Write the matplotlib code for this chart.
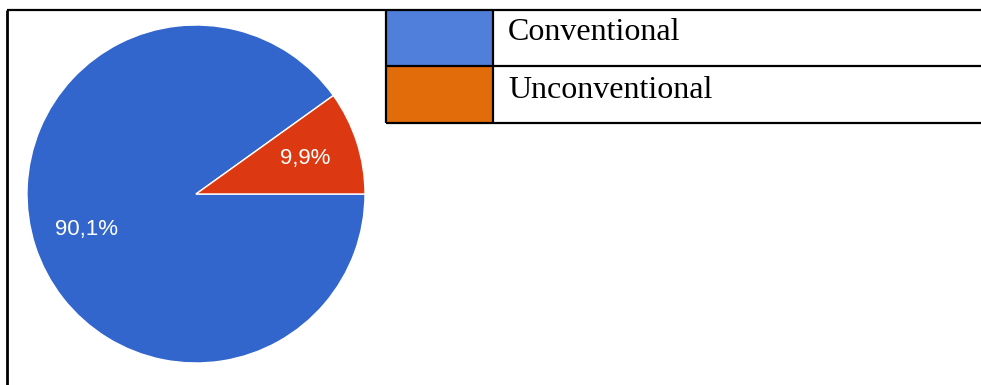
import matplotlib
matplotlib.use('Agg')
import matplotlib.pyplot as plt
from matplotlib.patches import Rectangle

# data
categories = ['Conventional', 'Unconventional']
shares = [90.1, 9.9]
pie_colors = ['#3366cc', '#dc3912']
key_colors = ['#4f7fdb', '#e36c0a']

W, H = 981, 385


def pct_label(p):
    return '{:.1f}%'.format(p).replace('.', ',')


def py(y):
    # image row -> axes y (axes y grows upwards)
    return H - y


fig = plt.figure(figsize=(W / 100, H / 100), dpi=100)
ax = fig.add_axes([0, 0, 1, 1])

# pie, small slice starts at 3 o'clock going up
start = 360 * shares[1] / sum(shares)
wedges, texts, autotexts = ax.pie(
    shares, colors=pie_colors, startangle=start, counterclock=True,
    center=(196, py(194)), radius=169, frame=True,
    autopct=pct_label, pctdistance=0.68,
    wedgeprops={'edgecolor': 'white', 'linewidth': 1},
    textprops={'color': 'white', 'fontsize': 16, 'family': 'Liberation Sans'})

# frame lines of the surrounding table
lw = 1.6
ax.plot([7, W], [py(9.5), py(9.5)], color='black', lw=lw, solid_capstyle='butt')
ax.plot([7, 7], [py(9.5), 0], color='black', lw=2.0, solid_capstyle='butt')
ax.plot([386, 386], [py(9.5), py(123)], color='black', lw=lw, solid_capstyle='butt')
ax.plot([493, 493], [py(9.5), py(123)], color='black', lw=lw, solid_capstyle='butt')
ax.plot([386, W], [py(65.5), py(65.5)], color='black', lw=lw, solid_capstyle='butt')
ax.plot([386, W], [py(122.5), py(122.5)], color='black', lw=lw, solid_capstyle='butt')

# key cells + names
rows = [(10.5, 65), (66.5, 122)]
baselines = [39.5, 98]
for (top, bot), c, name, base in zip(rows, key_colors, categories, baselines):
    ax.add_patch(Rectangle((387, py(bot)), 105, bot - top, facecolor=c,
                           edgecolor='none', zorder=0))
    ax.text(508, py(base), name, fontsize=23, family='Liberation Serif',
            va='baseline', ha='left', color='black')

ax.set_xlim(0, W)
ax.set_ylim(0, H)
ax.set_aspect('equal')
ax.axis('off')

fig.savefig('out.png', dpi=100)
